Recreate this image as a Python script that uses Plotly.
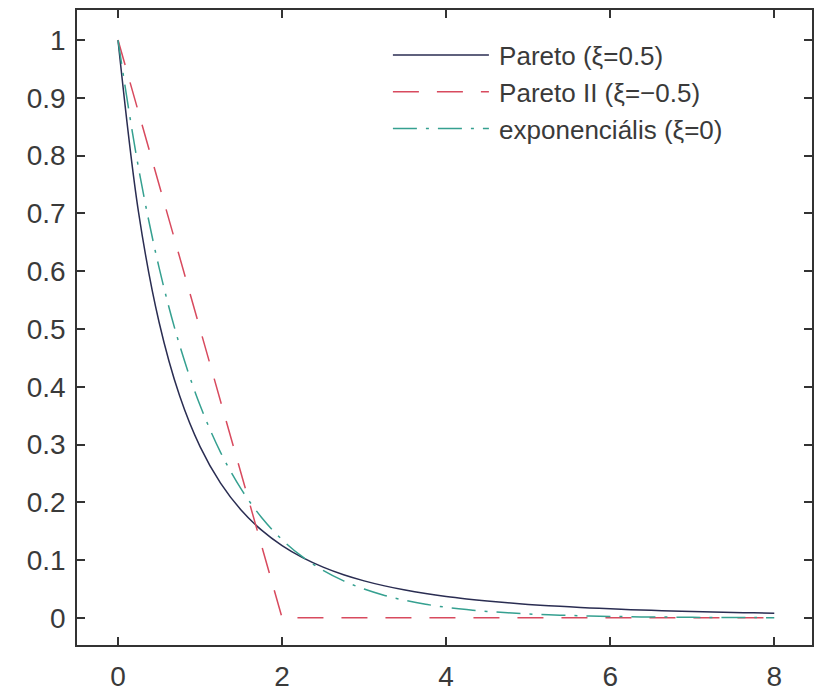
import plotly.graph_objects as go

x_vals = [0, 0.25, 0.5, 0.75, 1, 1.25, 1.5, 1.75, 2, 2.25, 2.5, 2.75, 3, 3.25, 3.5, 3.75,
          4, 4.25, 4.5, 4.75, 5, 5.25, 5.5, 5.75, 6, 6.25, 6.5, 6.75, 7, 7.25, 7.5, 7.75, 8]
pareto = [1.0, 0.7023, 0.512, 0.3847, 0.2963, 0.2331, 0.1866, 0.1517, 0.125, 0.1042, 0.0878,
          0.0746, 0.064, 0.0553, 0.0481, 0.0421, 0.037, 0.0328, 0.0291, 0.026, 0.0233, 0.021,
          0.019, 0.0172, 0.0156, 0.0142, 0.013, 0.0119, 0.011, 0.0101, 0.0093, 0.0086, 0.008]
expon = [1.0, 0.7788, 0.6065, 0.4724, 0.3679, 0.2865, 0.2231, 0.1738, 0.1353, 0.1054, 0.0821,
         0.0639, 0.0498, 0.0388, 0.0302, 0.0235, 0.0183, 0.0143, 0.0111, 0.0087, 0.0067, 0.0052,
         0.0041, 0.0032, 0.0025, 0.0019, 0.0015, 0.0012, 0.0009, 0.0007, 0.0006, 0.0004, 0.0003]
pareto2_x = [0, 2, 8]
pareto2_y = [1.0, 0.0, 0.0]

x_ticks = [0, 2, 4, 6, 8]
y_ticks = [0, 0.1, 0.2, 0.3, 0.4, 0.5, 0.6, 0.7, 0.8, 0.9, 1]
y_labels = ["0", "0.1", "0.2", "0.3", "0.4", "0.5", "0.6", "0.7", "0.8", "0.9", "1"]

names = ["Pareto (ξ=0.5)", "Pareto II (ξ=−0.5)", "exponenciális (ξ=0)"]
pad = "\u2009"

FONT = "Liberation Sans, Arial, sans-serif"

fig = go.Figure()
fig.add_trace(go.Scatter(x=x_vals, y=pareto, mode="lines", name=pad + names[0],
                         line=dict(color="#2a2d52", width=1.5, shape="spline")))
fig.add_trace(go.Scatter(x=pareto2_x, y=pareto2_y, mode="lines", name=pad + names[1],
                         line=dict(color="#d84a5e", width=1.5, dash="26px,18px")))
fig.add_trace(go.Scatter(x=x_vals, y=expon, mode="lines", name=pad + names[2],
                         line=dict(color="#35a090", width=1.5, dash="24px,9px,3px,9px",
                                   shape="spline")))

axis_common = dict(showline=True, linecolor="#333333", linewidth=1.6, mirror="ticks",
                   ticks="inside", ticklen=8, tickcolor="#333333", tickwidth=1.6,
                   showgrid=False, zeroline=False, automargin=False,
                   tickfont=dict(family=FONT, size=28, color="#3a3a3a"))

fig.update_layout(
    width=817, height=691,
    margin=dict(l=77, r=5, t=10, b=46),
    paper_bgcolor="white", plot_bgcolor="white",
    xaxis=dict(range=[-0.5, 8.46], tickvals=x_ticks, ticklabelstandoff=6, **axis_common),
    yaxis=dict(range=[-0.047, 1.052], tickvals=y_ticks, ticktext=y_labels,
               ticklabelstandoff=4, **axis_common),
    legend=dict(x=0.423, y=0.966, xanchor="left", yanchor="top", bgcolor="rgba(0,0,0,0)",
                font=dict(family=FONT, size=26, color="#3a3a3a"),
                itemwidth=96, tracegroupgap=0),
    showlegend=True,
)

fig.write_html("out.html")
